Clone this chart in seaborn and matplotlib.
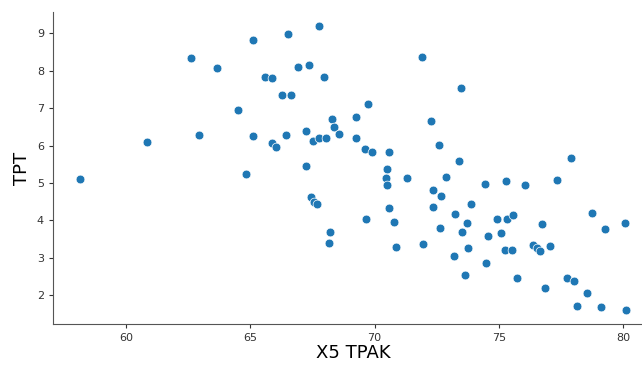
import numpy as np
import pandas as pd
import matplotlib
matplotlib.use("Agg")
import matplotlib.pyplot as plt
import seaborn as sns

# values
x5_tpak = [58.15, 60.85, 62.62, 63.67, 62.92, 64.51, 64.84,
           65.12, 66.53, 67.77, 71.91, 65.59, 65.88, 66.93, 67.36, 67.97,
           66.29, 66.64, 69.75, 68.29, 69.26, 72.27, 68.37, 65.12, 66.44,
           67.23, 68.56, 69.26, 65.89, 66.04, 67.53, 67.77, 68.04, 69.63,
           69.90, 70.57, 72.60, 67.23, 70.49, 70.45, 70.49, 71.32, 67.43,
           67.57, 67.67, 72.35, 72.68, 72.35, 70.58, 69.66, 70.76, 72.65,
           68.22, 68.16, 70.85, 71.95,
           73.48, 73.39, 77.91, 72.88, 74.46, 75.30, 76.04, 77.33, 73.86,
           73.25, 73.72, 73.52, 74.94, 75.33, 75.55, 78.74, 80.08, 76.74,
           79.28, 74.55, 75.08, 73.76, 75.24, 75.53, 73.19, 76.37, 76.53,
           76.65, 77.05, 74.49, 73.62, 75.72, 77.73, 78.04, 76.85, 78.54,
           78.14, 79.10, 80.11]
tpt = [5.11, 6.09, 8.34, 8.06, 6.28, 6.96, 5.25,
       8.83, 8.99, 9.19, 8.37, 7.84, 7.80, 8.10, 8.15, 7.84,
       7.36, 7.36, 7.11, 6.71, 6.77, 6.66, 6.50, 6.26, 6.28,
       6.39, 6.31, 6.19, 6.08, 5.95, 6.12, 6.19, 6.19, 5.91,
       5.84, 5.82, 6.01, 5.46, 5.37, 5.13, 4.94, 5.13, 4.63,
       4.49, 4.43, 4.81, 4.65, 4.36, 4.32, 4.03, 3.95, 3.79,
       3.68, 3.39, 3.30, 3.37,
       7.53, 5.60, 5.68, 5.15, 4.98, 5.05, 4.94, 5.09, 4.45,
       4.17, 3.93, 3.70, 4.05, 4.05, 4.14, 4.21, 3.93, 3.90,
       3.77, 3.57, 3.65, 3.26, 3.20, 3.22, 3.04, 3.34, 3.26,
       3.18, 3.31, 2.86, 2.54, 2.45, 2.45, 2.38, 2.20, 2.05,
       1.72, 1.68, 1.61]

df = pd.DataFrame({"X5_TPAK": x5_tpak, "TPT": tpt})

fig = plt.figure(figsize=(6.42, 3.65), dpi=100)
ax = fig.add_axes([53 / 642, 41 / 365, 600 / 642, 312 / 365])
sns.scatterplot(data=df, x="X5_TPAK", y="TPT", ax=ax, color="#1f77b4", s=40)
sns.despine(ax=ax)

ax.set_xlim(57.06, 81.2)
ax.set_ylim(1.23, 9.57)
ax.set_xticks([60, 65, 70, 75, 80])
ax.tick_params(labelsize=8, colors="#333333", length=3)
for sp in ax.spines.values():
    sp.set_color("#555555")
# underscore falls off the bottom edge in the reference, shown as a gap
ax.set_xlabel("X5 TPAK", fontsize=13, labelpad=0.5)
ax.set_ylabel("TPT", fontsize=13)

fig.savefig("out.png", dpi=100)
